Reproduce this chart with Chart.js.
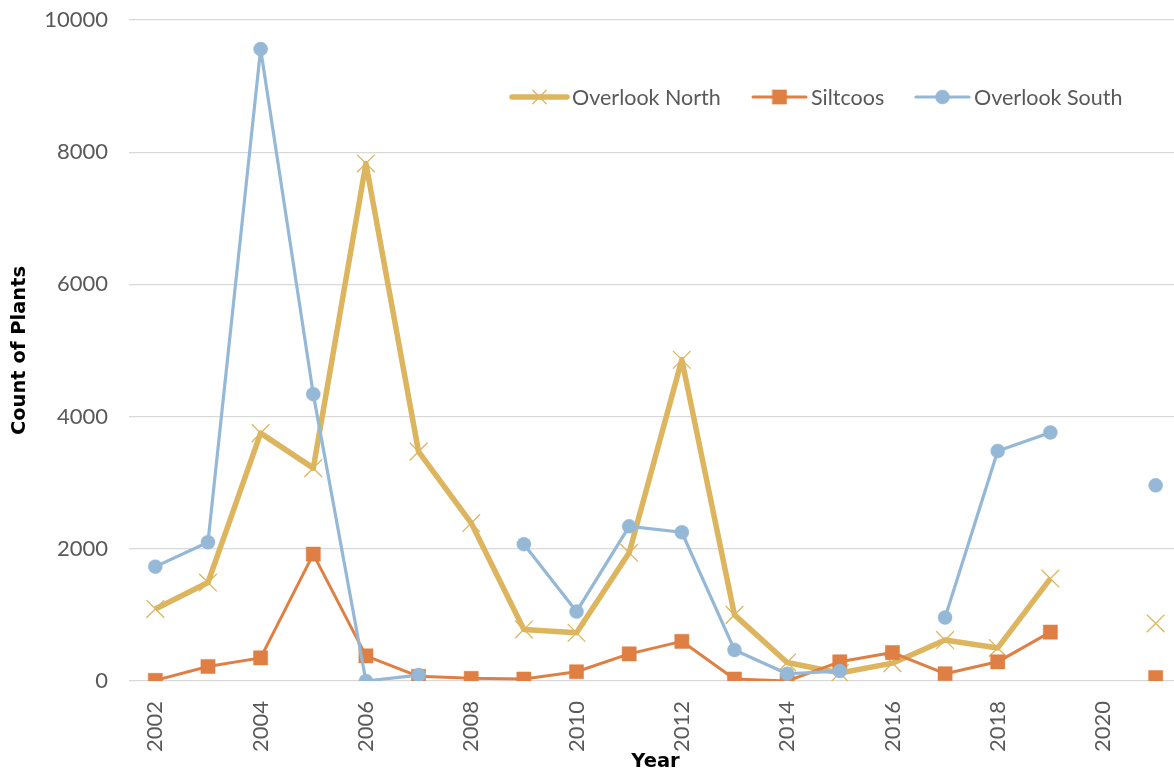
<!DOCTYPE html>
<html>
<head>
<meta charset="utf-8">
<script src="https://cdn.jsdelivr.net/npm/chart.js@4/dist/chart.umd.min.js"></script>
<style>
  html, body { margin: 0; padding: 0; background: #fff; overflow: hidden; }
  #wrap { width: 1182px; height: 774px; }
</style>
</head>
<body>
<div id="wrap"><canvas id="c" width="1182" height="774"></canvas></div>
<script>
const years = ['2002','2003','2004','2005','2006','2007','2008','2009','2010','2011',
               '2012','2013','2014','2015','2016','2017','2018','2019','2020','2021'];
const xTickLabels = ['2002','','2004','','2006','','2008','','2010','',
                     '2012','','2014','','2016','','2018','','2020',''];
const yTicks = [0, 2000, 4000, 6000, 8000, 10000];

const overlookNorth = [1090, 1490, 3750, 3220, 7830, 3470, 2390, 780, 730, 1940,
                       4860, 1000, 280, 120, 270, 620, 500, 1550, null, 870];
const siltcoos      = [10, 220, 350, 1920, 380, 70, 40, 30, 140, 410,
                       600, 30, 0, 290, 430, 110, 290, 740, null, 50];
const overlookSouth = [1730, 2100, 9560, 4340, 0, 90, null, 2070, 1050, 2340,
                       2250, 470, 110, 150, null, 960, 3480, 3760, null, 2960];

const seriesNames = ['Overlook North', 'Siltcoos', 'Overlook South'];

const FONT = 'Lato, "Open Sans", sans-serif';
const TFONT = '"DejaVu Sans", sans-serif';
const COL_N = '#DCB55E', COL_S = '#DF7F43', COL_O = '#95B8D6';

const datasets = [
  { label: seriesNames[0], data: overlookNorth, borderColor: COL_N, backgroundColor: COL_N,
    borderWidth: 5.5, pointStyle: 'crossRot', pointRadius: 12.5, pointBorderWidth: 1.3,
    pointBorderColor: COL_N, order: 2 },
  { label: seriesNames[1], data: siltcoos, borderColor: COL_S, backgroundColor: COL_S,
    borderWidth: 3, pointStyle: 'rect', pointRadius: 10, pointBorderWidth: 0.5,
    pointBorderColor: COL_S, pointBackgroundColor: COL_S, order: 1 },
  { label: seriesNames[2], data: overlookSouth, borderColor: COL_O, backgroundColor: COL_O,
    borderWidth: 3.2, pointStyle: 'circle', pointRadius: 7, pointBorderWidth: 0.5,
    pointBorderColor: COL_O, pointBackgroundColor: COL_O, order: 0 }
];

const legendLayout = [
  { idx: 0, x1: 512, x2: 567, tx: 572 },
  { idx: 1, x1: 753, x2: 806, tx: 811 },
  { idx: 2, x1: 916, x2: 969, tx: 974 }
];

const legendPlugin = {
  id: 'excelLegend',
  afterDraw(chart) {
    const ctx = chart.ctx;
    const y = 97;
    ctx.save();
    legendLayout.forEach(l => {
      const ds = chart.data.datasets[l.idx];
      ctx.strokeStyle = ds.borderColor;
      ctx.lineWidth = ds.borderWidth;
      ctx.lineCap = 'round';
      ctx.beginPath();
      ctx.moveTo(l.x1, y);
      ctx.lineTo(l.x2, y);
      ctx.stroke();
      ctx.fillStyle = ds.pointBackgroundColor || ds.borderColor;
      ctx.strokeStyle = ds.pointBorderColor || ds.borderColor;
      ctx.lineWidth = ds.pointBorderWidth;
      Chart.helpers.drawPoint(ctx, {
        pointStyle: ds.pointStyle,
        radius: ds.pointStyle === 'crossRot' ? 9.5 : (ds.pointStyle === 'rect' ? 10 : 7),
        rotation: 0,
        borderWidth: ds.pointBorderWidth
      }, (l.x1 + l.x2) / 2, y);
      ctx.fillStyle = '#595959';
      ctx.font = '21.5px ' + FONT;
      ctx.textAlign = 'left';
      ctx.textBaseline = 'middle';
      ctx.fillText(ds.label, l.tx, y + 1);
    });
    ctx.restore();
  }
};

new Chart(document.getElementById('c'), {
  type: 'line',
  data: { labels: years, datasets: datasets },
  plugins: [legendPlugin],
  options: {
    responsive: false,
    animation: false,
    devicePixelRatio: 1,
    spanGaps: false,
    layout: { autoPadding: false, padding: { top: 20, right: 0, left: 0, bottom: 0 } },
    plugins: { legend: { display: false }, tooltip: { enabled: false } },
    elements: { line: { tension: 0, borderJoinStyle: 'round', borderCapStyle: 'butt' } },
    scales: {
      x: {
        type: 'category',
        offset: true,
        grid: { display: false, drawTicks: false },
        border: { display: false },
        ticks: {
          autoSkip: false,
          minRotation: 90, maxRotation: 90,
          padding: 20,
          color: '#595959',
          font: { family: FONT, size: 22 },
          callback: (v, i) => xTickLabels[i]
        },
        title: {
          display: true, text: 'Year', color: '#000',
          font: { family: TFONT, size: 19.5, weight: 'bold' },
          padding: { top: 0, bottom: 0 }
        },
        afterFit: s => { s.height = 93; s.paddingLeft = 0; s.paddingRight = 0; }
      },
      y: {
        min: 0, max: 10000,
        afterBuildTicks: s => { s.ticks = yTicks.map(v => ({ value: v })); },
        grid: { color: '#D9D9D9', lineWidth: 1.3, drawTicks: false },
        border: { display: false },
        ticks: {
          padding: 21,
          color: '#595959',
          font: { family: FONT, size: 22 },
          callback: v => String(v)
        },
        title: {
          display: true, text: 'Count of Plants', color: '#000',
          font: { family: TFONT, size: 19.5, weight: 'bold' },
          padding: { top: 8, bottom: 0 }
        },
        afterFit: s => { s.width = 129; s.paddingTop = 0; s.paddingBottom = 0; }
      }
    }
  }
});
</script>
</body>
</html>
